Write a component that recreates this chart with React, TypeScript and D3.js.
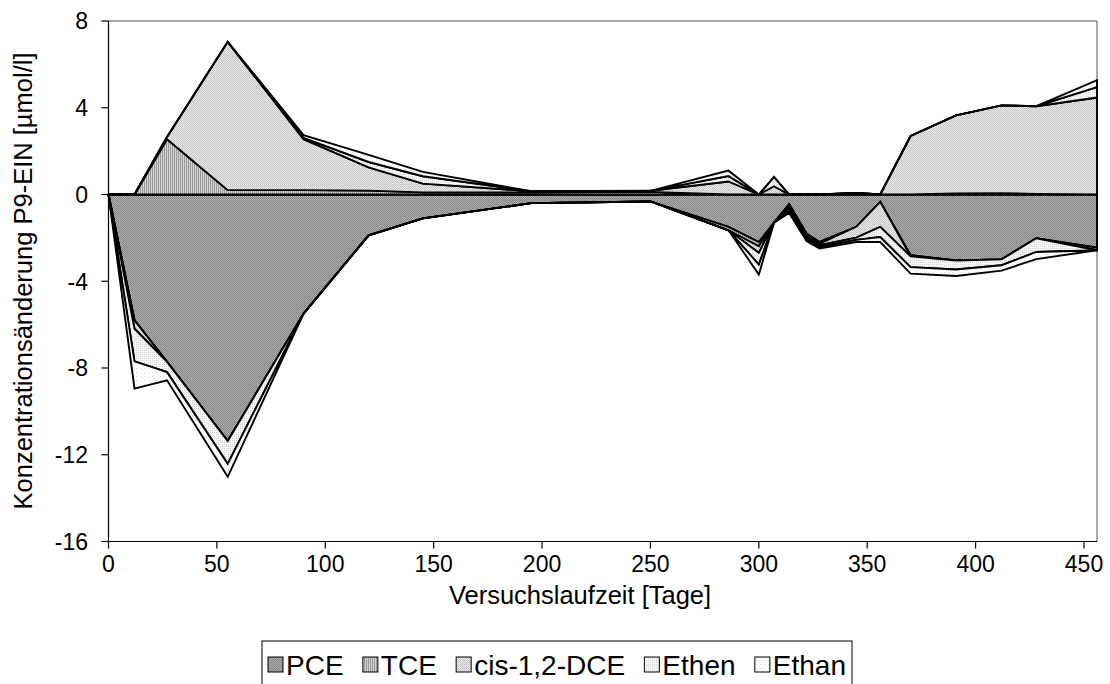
import React, { useEffect, useRef } from 'react';
import * as d3 from 'd3';

const days = [0, 12, 27, 55, 90, 120, 145, 195, 250, 286, 300, 307, 314, 322, 328, 345, 356, 370, 391, 412, 428, 456];
const PCE = [0, -5.8, -7.72, -11.37, -5.49, -1.88, -1.1, -0.4, -0.32, -1.49, -2.19, -1.3, -0.45, -1.8, -2.19, -1.49, -0.34, -2.8, -3.04, -2.99, -2.02, -2.45];
const TCE = [0, 0, 2.55, 0.2, 0.2, 0.18, 0.1, 0.1, 0.12, -0.16, -0.2, 0, -0.1, -0.1, -0.08, 0.07, 0, -0.05, 0.05, 0.06, 0.03, -0.12];
const DCE = [0, -0.39, 0.1, 6.84, 2.35, 1.07, 0.4, 0.05, 0.05, 0.6, -0.3, 0.38, -0.1, -0.1, -0.07, -0.5, -1.15, 2.7, 3.6, 4.05, 4.04, 4.47];
const Ethen = [0, -1.5, -0.47, -1.05, 0.06, 0.25, 0.34, 0, 0, 0.25, -0.54, 0.43, -0.1, -0.1, -0.08, -0.1, -0.47, -0.5, -0.42, -0.27, -0.63, 0.48];
const Ethan = [0, -1.26, -0.38, -0.6, 0.13, 0.33, 0.2, 0, 0, 0.25, -0.46, 0, -0.1, -0.05, -0.07, -0.1, -0.23, -0.3, -0.3, -0.25, -0.33, 0.32];

const seriesNames = ['PCE', 'TCE', 'cis-1,2-DCE', 'Ethen', 'Ethan'];
const seriesValues = [PCE, TCE, DCE, Ethen, Ethan];
const xTicks = [0, 50, 100, 150, 200, 250, 300, 350, 400, 450];
const yTicks = [8, 4, 0, -4, -8, -12, -16];
const xTitle = 'Versuchslaufzeit [Tage]';
const yTitle = 'Konzentrationsänderung P9-EIN [µmol/l]';

const FONT = 'Liberation Sans, Arial, sans-serif';

export default function App() {
  const ref = useRef<SVGSVGElement>(null);

  useEffect(() => {
    const svg = d3.select(ref.current);
    svg.selectAll('*').remove();

    const left = 108.5, right = 1097, top = 21, bottom = 541.5;
    const x = d3.scaleLinear().domain([0, 456]).range([left, right]);
    const y = d3.scaleLinear().domain([-16, 8]).range([bottom, top]);

    const defs = svg.append('defs');
    const p0 = defs.append('pattern').attr('id', 'pat0').attr('width', 2).attr('height', 2).attr('patternUnits', 'userSpaceOnUse');
    p0.append('rect').attr('width', 2).attr('height', 2).attr('fill', '#ababab');
    p0.append('rect').attr('width', 1).attr('height', 1).attr('fill', '#858585');
    p0.append('rect').attr('x', 1).attr('y', 1).attr('width', 1).attr('height', 1).attr('fill', '#8d8d8d');
    const p1 = defs.append('pattern').attr('id', 'pat1').attr('width', 2).attr('height', 2).attr('patternUnits', 'userSpaceOnUse');
    p1.append('rect').attr('width', 2).attr('height', 2).attr('fill', '#d2d2d2');
    p1.append('rect').attr('width', 1).attr('height', 2).attr('fill', '#9a9a9a');
    const p2 = defs.append('pattern').attr('id', 'pat2').attr('width', 2).attr('height', 2).attr('patternUnits', 'userSpaceOnUse');
    p2.append('rect').attr('width', 2).attr('height', 2).attr('fill', '#e6e6e6');
    p2.append('rect').attr('width', 1).attr('height', 1).attr('fill', '#c4c4c4');
    p2.append('rect').attr('x', 1).attr('y', 1).attr('width', 1).attr('height', 1).attr('fill', '#cdcdcd');
    const p3 = defs.append('pattern').attr('id', 'pat3').attr('width', 2).attr('height', 2).attr('patternUnits', 'userSpaceOnUse');
    p3.append('rect').attr('width', 2).attr('height', 2).attr('fill', '#f6f6f6');
    p3.append('rect').attr('width', 1).attr('height', 1).attr('fill', '#d8d8d8');
    const p4 = defs.append('pattern').attr('id', 'pat4').attr('width', 4).attr('height', 4).attr('patternUnits', 'userSpaceOnUse');
    p4.append('rect').attr('width', 4).attr('height', 4).attr('fill', '#ffffff');
    p4.append('rect').attr('width', 1).attr('height', 1).attr('fill', '#dcdcdc');
    p4.append('rect').attr('x', 2).attr('y', 2).attr('width', 1).attr('height', 1).attr('fill', '#e4e4e4');

    const keys = seriesNames;
    const rows = days.map((d, i) => {
      const r: any = { day: d };
      keys.forEach((k, j) => (r[k] = seriesValues[j][i]));
      return r;
    });
    const posStack = d3.stack<any>().keys(keys).value((d, k) => Math.max(0, d[k]))(rows);
    const negStack = d3.stack<any>().keys(keys).value((d, k) => Math.min(0, d[k]))(rows);

    const area = d3.area<any>()
      .x((d) => x(d.data.day))
      .y0((d) => y(d[0]))
      .y1((d) => y(d[1]));

    svg.append('line').attr('x1', left).attr('x2', right).attr('y1', top).attr('y2', top).attr('stroke', '#8c8c8c').attr('stroke-width', 1.5);
    svg.append('line').attr('x1', right).attr('x2', right).attr('y1', top).attr('y2', bottom).attr('stroke', '#8c8c8c').attr('stroke-width', 1.5);

    const g = svg.append('g');
    keys.forEach((k, i) => {
      g.append('path').attr('d', area(negStack[i]) as string)
        .attr('fill', `url(#pat${i})`).attr('stroke', '#000').attr('stroke-width', 1.9).attr('stroke-linejoin', 'miter');
      g.append('path').attr('d', area(posStack[i]) as string)
        .attr('fill', `url(#pat${i})`).attr('stroke', '#000').attr('stroke-width', 1.9).attr('stroke-linejoin', 'miter');
    });

    const ax = svg.append('g');
    ax.append('line').attr('x1', left).attr('x2', left).attr('y1', top).attr('y2', bottom).attr('stroke', '#000').attr('stroke-width', 1.2);
    ax.append('line').attr('x1', left).attr('x2', right).attr('y1', bottom).attr('y2', bottom).attr('stroke', '#000').attr('stroke-width', 1.2);
    yTicks.forEach((t) => {
      ax.append('line').attr('x1', left - 7).attr('x2', left).attr('y1', y(t)).attr('y2', y(t)).attr('stroke', '#000').attr('stroke-width', 1.2);
      ax.append('text').attr('x', 88).attr('y', y(t)).attr('dy', '0.36em').attr('text-anchor', 'end')
        .attr('font-family', FONT).attr('font-size', 23).text(String(t));
    });
    xTicks.forEach((t) => {
      ax.append('line').attr('x1', x(t)).attr('x2', x(t)).attr('y1', bottom).attr('y2', bottom + 7).attr('stroke', '#000').attr('stroke-width', 1.2);
      ax.append('text').attr('x', x(t)).attr('y', 572).attr('text-anchor', 'middle')
        .attr('font-family', FONT).attr('font-size', 23).text(String(t));
    });
    ax.append('text').attr('x', 580).attr('y', 604).attr('text-anchor', 'middle')
      .attr('font-family', FONT).attr('font-size', 25.5).text(xTitle);
    ax.append('text').attr('transform', `translate(32,281) rotate(-90)`).attr('text-anchor', 'middle')
      .attr('font-family', FONT).attr('font-size', 25.5).text(yTitle);

    // legend
    const lg = svg.append('g');
    const boxL = 262, boxR = 852;
    lg.append('rect').attr('x', boxL).attr('y', 641).attr('width', boxR - boxL).attr('height', 60)
      .attr('fill', '#fff').attr('stroke', '#000').attr('stroke-width', 1);
    const texts = keys.map((k) => lg.append('text').attr('y', 675)
      .attr('font-family', FONT).attr('font-size', 28).text(k));
    const widths = texts.map((t) => (t.node() as SVGTextElement).getComputedTextLength());
    const sw = 15, swGap = 3;
    const total = widths.reduce((a, b) => a + b, 0) + keys.length * (sw + swGap);
    const gap = (boxR - boxL - 12 - total) / (keys.length - 1);
    let cx = boxL + 6;
    keys.forEach((k, i) => {
      lg.append('rect').attr('x', cx).attr('y', 657).attr('width', sw).attr('height', sw)
        .attr('fill', `url(#pat${i})`).attr('stroke', '#000').attr('stroke-width', 1);
      texts[i].attr('x', cx + sw + swGap);
      cx += sw + swGap + widths[i] + gap;
    });
  }, []);

  return (
    <svg ref={ref} width={1110} height={684} style={{ position: 'absolute', left: 0, top: 0, background: '#fff' }} />
  );
}
